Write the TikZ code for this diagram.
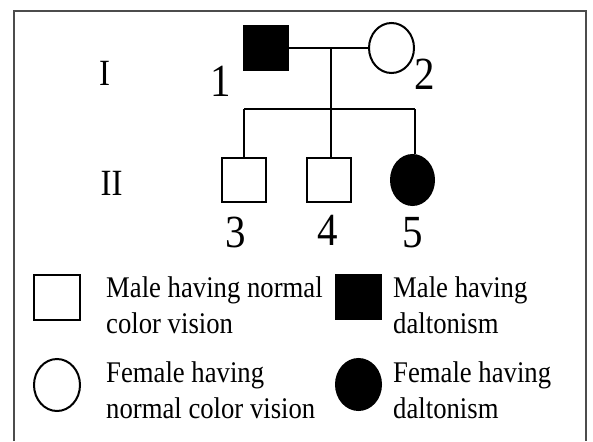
\documentclass[tikz,border=0pt]{standalone}
\usepackage{fontspec}
\setmainfont{Liberation Serif}[FakeStretch=0.89]
\usetikzlibrary{shapes.geometric}
\tikzset{
  malebox/.style={draw, rectangle, minimum width=44pt, minimum height=44pt, inner sep=0pt, line width=2pt},
  femalebox/.style={draw, ellipse, inner sep=0pt, line width=2pt},
  affected/.style={fill=black},
  gen/.style={anchor=base, inner sep=0pt, font=\fontsize{37}{37}\selectfont},
  num/.style={anchor=base, inner sep=0pt, font=\fontsize{46}{46}\selectfont},
  legtext/.style={anchor=north west, inner sep=0pt, align=left, font=\fontsize{30}{36}\selectfont},
  link/.style={line width=2pt},
  frame/.style={draw=black!70, line width=2pt}
}
\begin{document}
\begin{tikzpicture}[x=1pt,y=-1pt]
\useasboundingbox (0,0) rectangle (593,441);
\draw[frame] (14,441) -- (14,11) -- (586,11) -- (586,441);

% generation labels
\node[gen] (g1) at (104.5,85) {I};
\node[gen] (g2) at (111.5,195) {II};

% generation I
\node[malebox, affected] (p1) at (266,48) {};
\node[femalebox, minimum width=45pt, minimum height=50pt] (p2) at (391.5,48) {};
\node[num] (n1) at (221,96) {1};
\node[num] (n2) at (425,90) {2};

% generation II
\node[malebox] (p3) at (244,180) {};
\node[malebox] (p4) at (329,180) {};
\node[femalebox, affected, minimum width=43pt, minimum height=50pt] (p5) at (412.5,180) {};
\node[num] (n3) at (236,247) {3};
\node[num] (n4) at (328,245) {4};
\node[num] (n5) at (413,247) {5};

% connectors
\coordinate (mid) at (331,48);
\coordinate (sib) at (331,109);
\coordinate (s3) at (244,109);
\coordinate (s5) at (415,109);
\draw[link] (p1) -- (p2);
\draw[link] (mid) -- (sib);
\draw[link] (s3) -- (s5);
\draw[link] (s3) -- (p3.north);
\draw[link] (sib) -- (sib |- p4.north);
\draw[link] (s5) -- (s5 |- p5.north);

% legend
\node[malebox, minimum width=46pt, minimum height=45pt] (l1) at (57,297.5) {};
\node[femalebox, minimum width=46pt, minimum height=52pt] (l2) at (57,385) {};
\node[malebox, affected, minimum width=45pt, minimum height=44pt] (l3) at (358.5,297) {};
\node[femalebox, affected, minimum width=45pt, minimum height=51pt] (l4) at (358.5,384.5) {};
\node[legtext] (t1) at (106,276.5) {Male having normal\\color vision};
\node[legtext] (t2) at (393,276.5) {Male having\\daltonism};
\node[legtext] (t3) at (106,361.5) {Female having\\normal color vision};
\node[legtext] (t4) at (393,361.5) {Female having\\daltonism};
\end{tikzpicture}
\end{document}
